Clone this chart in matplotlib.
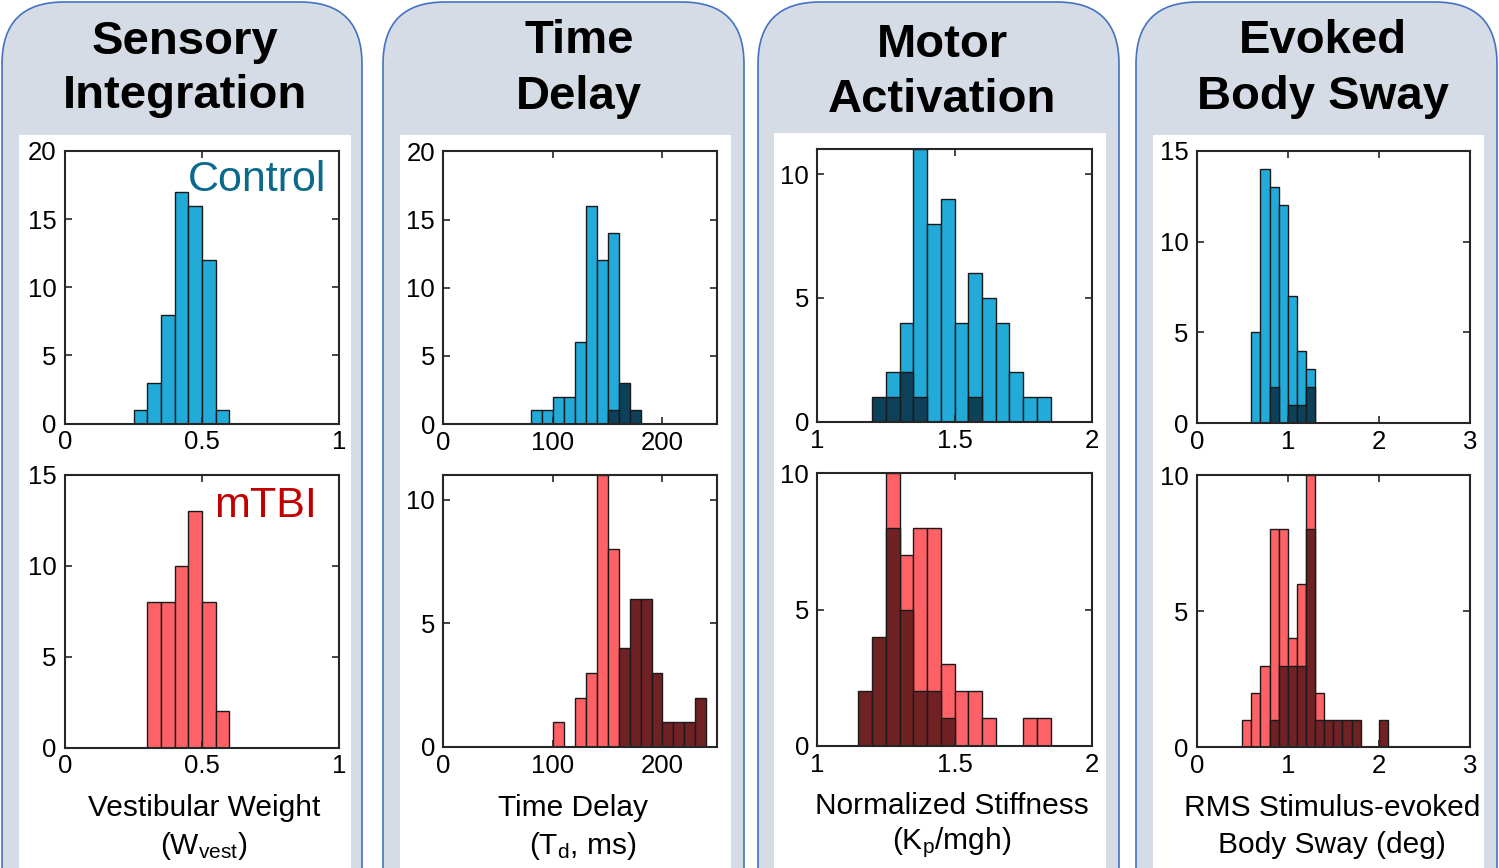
import matplotlib
matplotlib.use("Agg")
import matplotlib.pyplot as plt
from matplotlib.patches import FancyBboxPatch, Rectangle
import numpy as np

plt.rcParams['font.family'] = ['Liberation Sans', 'DejaVu Sans']
plt.rcParams['mathtext.fontset'] = 'custom'
plt.rcParams['mathtext.rm'] = 'Liberation Sans'
plt.rcParams['mathtext.it'] = 'Liberation Sans'

# ---------------- data (counts per bin) ----------------
titles = ["Sensory\nIntegration", "Time\nDelay", "Motor\nActivation", "Evoked\nBody Sway"]
xlabels = [["Vestibular Weight", r"(W$_{\mathrm{vest}}$)"],
           ["Time Delay", r"(T$_{\mathrm{d}}$, ms)"],
           ["Normalized Stiffness", r"(K$_{\mathrm{p}}$/mgh)"],
           ["RMS Stimulus-evoked", "Body Sway (deg)"]]

# Sensory integration (bin width 0.05)
si_ctrl_start, si_width = 0.25, 0.05
si_ctrl = [1, 3, 8, 17, 16, 12, 1]
si_tbi_start = 0.30
si_tbi = [8, 8, 10, 13, 8, 2]

# Time delay (bin width 10 ms)
td_width = 10
td_ctrl_start = 80
td_ctrl = [1, 1, 2, 2, 6, 16, 12, 14]
td_ctrl_sub_start = 150
td_ctrl_sub = [1, 3, 1]
td_tbi_start = 100
td_tbi = [1, 0, 2, 3, 11, 8]
td_tbi_sub_start = 160
td_tbi_sub = [4, 6, 6, 3, 1, 1, 1, 2]

# Motor activation (bin width 0.05)
ma_width = 0.05
ma_ctrl_start = 1.25
ma_ctrl = [2, 4, 11, 8, 9, 4, 6, 5, 4, 2, 1, 1]
ma_ctrl_sub_start = 1.20
ma_ctrl_sub = [1, 1, 2, 1, 0, 0, 0, 1]
ma_tbi_start = 1.25
ma_tbi = [10, 7, 8, 8, 3, 2, 2, 1, 0, 0, 1, 1]
ma_tbi_sub_start = 1.15
ma_tbi_sub = [2, 4, 8, 5, 2, 2, 1]

# Evoked body sway (bin width 0.1 deg)
bs_width = 0.1
bs_ctrl_start = 0.6
bs_ctrl = [5, 14, 13, 12, 7, 4, 3]
bs_ctrl_sub_start = 0.8
bs_ctrl_sub = [2, 0, 1, 1, 2]
bs_tbi_start = 0.5
bs_tbi = [1, 2, 3, 8, 8, 4, 6, 10, 2]
bs_tbi_sub_start = 0.8
bs_tbi_sub = [1, 3, 3, 3, 8, 1, 1, 1, 1, 1, 0, 0, 1]

# ---------------- styling ----------------
C_CTRL = "#22aad9"
C_CTRL_SUB = "#0d4059"
C_TBI = "#ff6266"
C_TBI_SUB = "#6f2124"
EDGE = "#1a1a1a"

W, H = 1499, 868
fig = plt.figure(figsize=(W / 100, H / 100), dpi=100)
fig.patch.set_facecolor("white")

bg = fig.add_axes([0, 0, 1, 1])
bg.set_xlim(0, W)
bg.set_ylim(H, 0)
bg.axis("off")

panels = [(2, 362), (383, 744), (758, 1119), (1136, 1497)]
whites = [(19, 351), (400, 731), (774, 1106), (1153, 1484)]
white_top = [135, 135, 133, 135]
for (x0, x1), (w0, w1), wt in zip(panels, whites, white_top):
    bg.add_patch(FancyBboxPatch((x0, 2), x1 - x0, 1000, boxstyle="round,pad=0,rounding_size=62",
                                facecolor="#d6dce5", edgecolor="#4472c4", linewidth=1.2))
    bg.add_patch(Rectangle((w0, wt), w1 - w0, H - wt + 5, facecolor="white", edgecolor="none"))

title_x = [185, 579, 942, 1323]
title_y = [(42, 96), (41, 97), (45, 100), (41, 97)]
for cx, t, (ya, yb) in zip(title_x, titles, title_y):
    l1, l2 = t.split("\n")
    bg.text(cx, ya, l1, ha="center", va="center", fontsize=34, fontweight="bold", color="black")
    bg.text(cx, yb, l2, ha="center", va="center", fontsize=34, fontweight="bold", color="black")


def px_axes(l, t, r, b):
    return fig.add_axes([l / W, 1 - b / H, (r - l) / W, (b - t) / H])


def bars(ax, start, width, counts, color):
    edges = start + width * np.arange(len(counts))
    c = np.array(counts, dtype=float)
    m = c > 0
    ax.bar(edges[m], c[m], width=width, align="edge", color=color, edgecolor=EDGE, linewidth=1.0)


def style(ax, xlim, xticks, xtl, ylim, yticks):
    ax.set_xlim(*xlim)
    ax.set_ylim(*ylim)
    ax.set_xticks(xticks)
    ax.set_xticklabels(xtl)
    ax.set_yticks(yticks)
    ax.tick_params(direction="in", top=True, right=True, length=5, width=1.2,
                   labelsize=18.5, color="#262626")
    ax.tick_params(axis="y", pad=6)
    ax.tick_params(axis="x", pad=5)
    for s in ax.spines.values():
        s.set_linewidth(1.5)
        s.set_color("#262626")


rects = {
    0: [(65, 151, 339, 423.5), (65, 475, 339, 747.5)],
    1: [(443.3, 151.5, 717.3, 424), (443.3, 475, 717.3, 747)],
    2: [(817.3, 149.3, 1091.7, 421.7), (817.3, 473.3, 1091.7, 745.7)],
    3: [(1196.7, 150.7, 1470, 423.3), (1196.7, 475, 1470, 747.3)],
}

# Panel 1
ax = px_axes(*rects[0][0])
bars(ax, si_ctrl_start, si_width, si_ctrl, C_CTRL)
style(ax, (0, 1), [0, 0.5, 1], ["0", "0.5", "1"], (0, 20), [0, 5, 10, 15, 20])
ax.text(0.953, 0.895, "Control", transform=ax.transAxes, ha="right", va="center", fontsize=31, color="#0a6a8c")
ax = px_axes(*rects[0][1])
bars(ax, si_tbi_start, si_width, si_tbi, C_TBI)
style(ax, (0, 1), [0, 0.5, 1], ["0", "0.5", "1"], (0, 15), [0, 5, 10, 15])
ax.text(0.918, 0.885, "mTBI", transform=ax.transAxes, ha="right", va="center", fontsize=31, color="#c00000")

# Panel 2
ax = px_axes(*rects[1][0])
bars(ax, td_ctrl_start, td_width, td_ctrl, C_CTRL)
bars(ax, td_ctrl_sub_start, td_width, td_ctrl_sub, C_CTRL_SUB)
style(ax, (0, 250), [0, 100, 200], ["0", "100", "200"], (0, 20), [0, 5, 10, 15, 20])
ax = px_axes(*rects[1][1])
bars(ax, td_tbi_start, td_width, td_tbi, C_TBI)
bars(ax, td_tbi_sub_start, td_width, td_tbi_sub, C_TBI_SUB)
style(ax, (0, 250), [0, 100, 200], ["0", "100", "200"], (0, 11), [0, 5, 10])

# Panel 3
ax = px_axes(*rects[2][0])
bars(ax, ma_ctrl_start, ma_width, ma_ctrl, C_CTRL)
bars(ax, ma_ctrl_sub_start, ma_width, ma_ctrl_sub, C_CTRL_SUB)
style(ax, (1, 2), [1, 1.5, 2], ["1", "1.5", "2"], (0, 11), [0, 5, 10])
ax = px_axes(*rects[2][1])
bars(ax, ma_tbi_start, ma_width, ma_tbi, C_TBI)
bars(ax, ma_tbi_sub_start, ma_width, ma_tbi_sub, C_TBI_SUB)
style(ax, (1, 2), [1, 1.5, 2], ["1", "1.5", "2"], (0, 10), [0, 5, 10])

# Panel 4
ax = px_axes(*rects[3][0])
bars(ax, bs_ctrl_start, bs_width, bs_ctrl, C_CTRL)
bars(ax, bs_ctrl_sub_start, bs_width, bs_ctrl_sub, C_CTRL_SUB)
style(ax, (0, 3), [0, 1, 2, 3], ["0", "1", "2", "3"], (0, 15), [0, 5, 10, 15])
ax = px_axes(*rects[3][1])
bars(ax, bs_tbi_start, bs_width, bs_tbi, C_TBI)
bars(ax, bs_tbi_sub_start, bs_width, bs_tbi_sub, C_TBI_SUB)
style(ax, (0, 3), [0, 1, 2, 3], ["0", "1", "2", "3"], (0, 10), [0, 5, 10])

# x labels
label_x = [(204, 204), (573, 583), (952, 952), (1332, 1332)]
label_y = [(808, 846), (808, 846), (806, 843), (808, 845)]
for lines, (x1, x2), (y1, y2) in zip(xlabels, label_x, label_y):
    bg.text(x1, y1, lines[0], ha="center", va="center", fontsize=21.5, color="black")
    bg.text(x2, y2, lines[1], ha="center", va="center", fontsize=21.5, color="black")

fig.savefig("out.png", dpi=100, facecolor="white")
